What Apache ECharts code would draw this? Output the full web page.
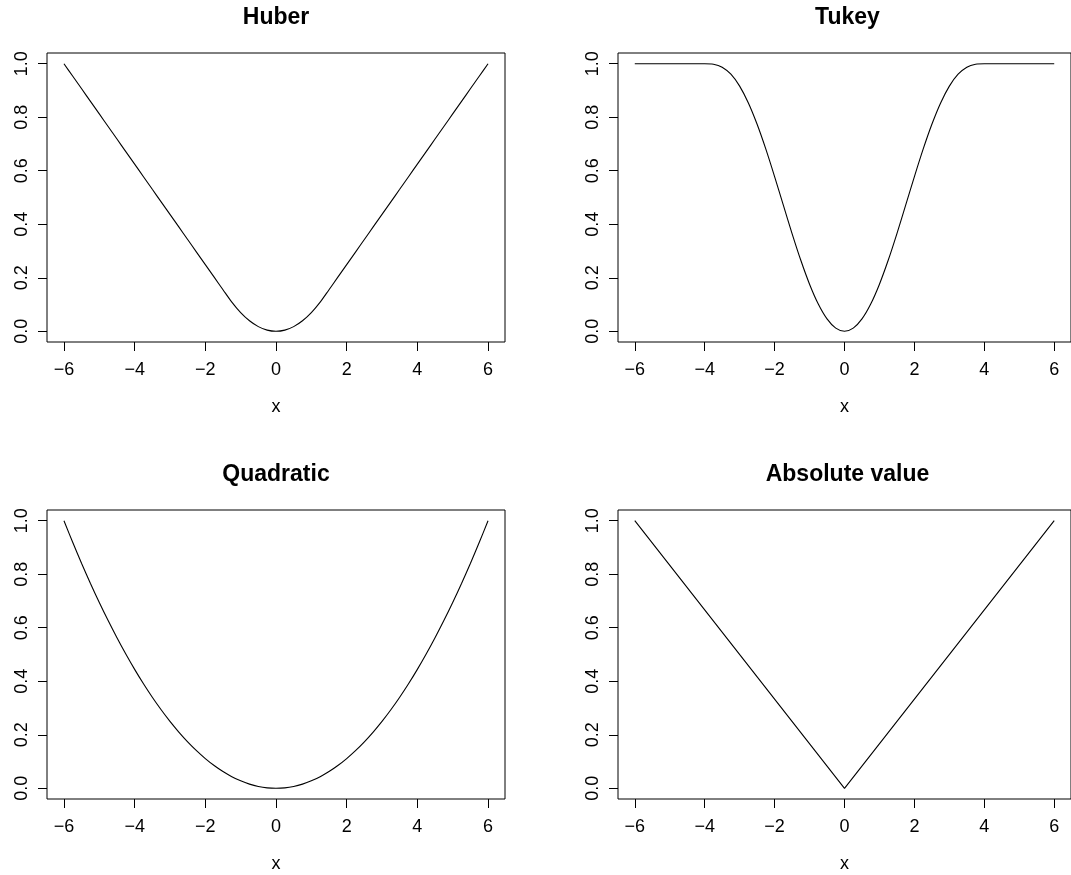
<!DOCTYPE html>
<html>
<head>
<meta charset="utf-8">
<script src="https://cdn.jsdelivr.net/npm/echarts@6/dist/echarts.min.js"></script>
<style>
html,body{margin:0;padding:0;background:#fff;}
#chart{width:1071px;height:875px;}
</style>
</head>
<body>
<div id="chart"></div>
<script>
// ---- data ----
const panelTitles = ['Huber', 'Tukey', 'Quadratic', 'Absolute value'];
const xTickLabels = [-6, -4, -2, 0, 2, 4, 6];
const yTickLabels = [0, 0.2, 0.4, 0.6, 0.8, 1.0];
const xName = 'x';

const xs = [-6,-5.75,-5.5,-5.25,-5,-4.75,-4.5,-4.25,-4,-3.75,-3.5,-3.25,-3,-2.75,-2.5,-2.25,-2,-1.75,-1.5,-1.25,-1,-0.75,-0.5,-0.25,0,
            0.25,0.5,0.75,1,1.25,1.5,1.75,2,2.25,2.5,2.75,3,3.25,3.5,3.75,4,4.25,4.5,4.75,5,5.25,5.5,5.75,6];

const huber = [1.0000,0.9531,0.9062,0.8592,0.8123,0.7654,0.7184,0.6715,0.6246,0.5777,0.5307,0.4838,0.4369,0.3900,0.3430,0.2961,0.2492,0.2023,0.1553,0.1090,0.0698,0.0393,0.0175,0.0044,0,
               0.0044,0.0175,0.0393,0.0698,0.1090,0.1553,0.2023,0.2492,0.2961,0.3430,0.3900,0.4369,0.4838,0.5307,0.5777,0.6246,0.6715,0.7184,0.7654,0.8123,0.8592,0.9062,0.9531,1.0000];

const tukey = [1,1,1,1,1,1,1,1,1,0.9982,0.9871,0.9607,0.9163,0.8534,0.7737,0.6806,0.5781,0.4713,0.3653,0.2653,0.1760,0.1018,0.0462,0.0117,0,
               0.0117,0.0462,0.1018,0.1760,0.2653,0.3653,0.4713,0.5781,0.6806,0.7737,0.8534,0.9163,0.9607,0.9871,0.9982,1,1,1,1,1,1,1,1,1];

const quadratic = [1,0.9184,0.8403,0.7656,0.6944,0.6267,0.5625,0.5017,0.4444,0.3906,0.3403,0.2934,0.25,0.2101,0.1736,0.1406,0.1111,0.0851,0.0625,0.0434,0.0278,0.0156,0.0069,0.0017,0,
                   0.0017,0.0069,0.0156,0.0278,0.0434,0.0625,0.0851,0.1111,0.1406,0.1736,0.2101,0.25,0.2934,0.3403,0.3906,0.4444,0.5017,0.5625,0.6267,0.6944,0.7656,0.8403,0.9184,1];

const absX = [-6, 0, 6];
const absY = [1, 0, 1];

// ---- chart ----
const FONT = '"Liberation Sans", Arial, Helvetica, sans-serif';
const zip = (a, b) => a.map((v, i) => [v, b[i]]);
const panelData = [zip(xs, huber), zip(xs, tukey), zip(xs, quadratic), zip(absX, absY)];
const panelSmooth = [0.3, 0.3, 0.3, false];

const grids = [
  {left: 47, top: 53, width: 458, height: 289},
  {left: 618, top: 53, width: 459, height: 289},
  {left: 47, top: 510, width: 458, height: 289},
  {left: 618, top: 510, width: 459, height: 289}
];

const option = {
  animation: false,
  backgroundColor: '#fff',
  title: panelTitles.map((t, i) => ({
    text: t,
    left: grids[i].left + grids[i].width / 2,
    top: grids[i].top - 47,
    textAlign: 'center',
    padding: 0,
    textStyle: {fontFamily: FONT, fontWeight: 'bold', fontSize: 23, color: '#000'}
  })),
  grid: grids.map(g => Object.assign({show: true, borderColor: '#000', borderWidth: 1, backgroundColor: 'transparent'}, g)),
  xAxis: grids.map((g, i) => ({
    type: 'value', gridIndex: i, min: -6.48, max: 6.48,
    name: xName, nameLocation: 'middle', nameGap: 56,
    nameTextStyle: {fontFamily: FONT, fontSize: 18, color: '#000'},
    axisLine: {show: false, onZero: false},
    axisTick: {show: true, inside: false, length: 9, customValues: xTickLabels, lineStyle: {color: '#000', width: 1}},
    axisLabel: {show: true, customValues: xTickLabels, margin: 19, fontFamily: FONT, fontSize: 18, color: '#000',
      formatter: v => (v < 0 ? '\u2212' + Math.abs(v) : String(v))},
    splitLine: {show: false}
  })),
  yAxis: grids.map((g, i) => ({
    type: 'value', gridIndex: i, min: -0.04, max: 1.04,
    axisLine: {show: false, onZero: false},
    axisTick: {show: true, inside: false, length: 9, customValues: yTickLabels, lineStyle: {color: '#000', width: 1}},
    axisLabel: {show: true, customValues: yTickLabels, rotate: 90, margin: 16, fontFamily: FONT, fontSize: 18, color: '#000',
      formatter: v => v.toFixed(1)},
    splitLine: {show: false}
  })),
  series: panelData.map((d, i) => ({
    type: 'line', xAxisIndex: i, yAxisIndex: i, data: d,
    symbol: 'none', showSymbol: false,
    smooth: panelSmooth[i],
    lineStyle: {color: '#000', width: 1.1},
    clip: true
  }))
};

const chart = echarts.init(document.getElementById('chart'), null, {renderer: 'canvas'});
chart.setOption(option);
</script>
</body>
</html>
